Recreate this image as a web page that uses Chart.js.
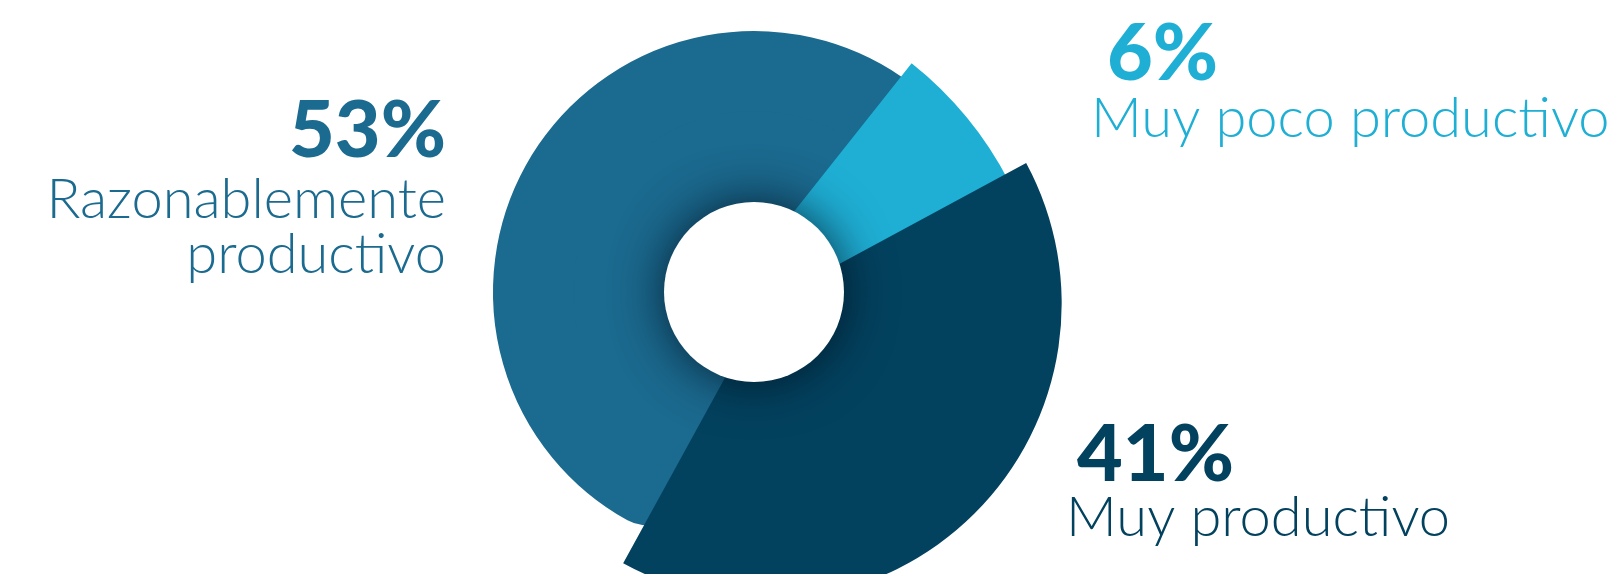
<!DOCTYPE html>
<html>
<head>
<meta charset="utf-8">
<script src="https://cdn.jsdelivr.net/npm/chart.js@4.4.0/dist/chart.umd.min.js"></script>
<style>
  html, body { margin: 0; padding: 0; background: #fff; }
  #wrap { position: relative; width: 1614px; height: 574px; }
</style>
</head>
<body>
<div id="wrap"><canvas id="productivityChart" width="1614" height="574"></canvas></div>
<script>
// Data
var categories = [['Razonablemente', 'productivo'], ['Muy poco productivo'], ['Muy productivo']];
var shares = [53, 6, 41];

// Slice styling (big slice drawn first, the small one over it, the dark one on top)
var sliceColors = ['#1B6A8F', '#1FAFD5', '#03425F'];
var sliceOffsets = [0, -352, 66];
var sliceBorders = [80, 0, 0];
var sliceReach = [1, 1.895, 1.305];
var holeRadius = 90;

// Label placement
var labelSpots = [
    { align: 'right', pctX: 446, pctY: 157, textX: 446, textY: [218, 273] },
    { align: 'left', pctX: 1107, pctY: 80, textX: 1091, textY: [137] },
    { align: 'left', pctX: 1077, pctY: 481, textX: 1066, textY: [536] }
];

// stretch some slices past the base radius
var reachPlugin = {
    id: 'reach',
    beforeDatasetsDraw: function (chart) {
        var meta = chart.getDatasetMeta(0);
        var base = meta.controller.outerRadius;
        meta.data.forEach(function (arc, i) {
            arc.outerRadius = base * sliceReach[i];
        });
    }
};

// white hole with soft shadow
var holePlugin = {
    id: 'hole',
    afterDatasetsDraw: function (chart) {
        var arc = chart.getDatasetMeta(0).data[0];
        var ctx = chart.ctx;
        ctx.save();
        ctx.shadowColor = 'rgba(0, 15, 30, 0.8)';
        ctx.shadowBlur = 50;
        ctx.fillStyle = '#fff';
        ctx.beginPath();
        ctx.arc(arc.x, arc.y, holeRadius, 0, Math.PI * 2);
        ctx.fill();
        ctx.restore();
    }
};

var textPlugin = {
    id: 'sliceText',
    afterDraw: function (chart) {
        var ctx = chart.ctx;
        ctx.save();
        ctx.textBaseline = 'alphabetic';
        for (var i = 0; i < shares.length; i++) {
            var spot = labelSpots[i];
            ctx.fillStyle = sliceColors[i];
            ctx.textAlign = spot.align;
            ctx.font = '900 79px Lato';
            ctx.fillText(shares[i] + '%', spot.pctX, spot.pctY);
            ctx.font = '300 56px Lato';
            for (var j = 0; j < categories[i].length; j++) {
                ctx.fillText(categories[i][j], spot.textX, spot.textY[j]);
            }
        }
        ctx.restore();
    }
};

var canvas = document.getElementById('productivityChart');
new Chart(canvas.getContext('2d'), {
    type: 'pie',
    data: {
        labels: categories.map(function (l) { return l.join(' '); }),
        datasets: [{
            data: shares,
            backgroundColor: sliceColors,
            borderColor: sliceColors,
            borderWidth: sliceBorders,
            borderJoinStyle: 'round',
            offset: sliceOffsets
        }]
    },
    options: {
        responsive: false,
        animation: false,
        events: [],
        rotation: 209,
        radius: 221,
        layout: { padding: { left: 0, right: 106, top: 10, bottom: 0 } },
        plugins: {
            legend: { display: false },
            tooltip: { enabled: false }
        }
    },
    plugins: [reachPlugin, holePlugin, textPlugin]
});
</script>
</body>
</html>
